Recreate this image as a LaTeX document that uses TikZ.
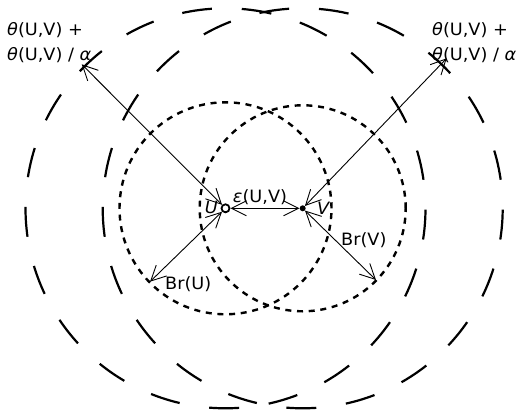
\documentclass[tikz,border=0pt]{standalone}
\usepackage{fontspec}
\setmainfont{DejaVu Sans}[FakeStretch=1.04]
\usetikzlibrary{arrows.meta}
\begin{document}
\begin{tikzpicture}[x=1pt,y=1pt,
  big/.style={line width=2.2pt, dash pattern=on 29.92pt off 29.92pt, dash phase=31.2pt},
  dots/.style={line width=2.4pt, dash pattern=on 6pt off 5.7pt},
  barb/.tip={Straight Barb[length=15pt,width=15pt]},
  link/.style={line width=0.9pt, barb-barb},
  lab/.style={font=\fontsize{17}{20}\selectfont, inner sep=0pt}]
\useasboundingbox (0,0) rectangle (519,418);
\coordinate (cu) at (225.5,209.7);
\coordinate (cv) at (302.7,209.7);
\draw[big] (cu) circle[radius=200pt];
\draw[big] (cv) circle[radius=200pt];
\draw[dots] (cu) circle[radius=106pt];
\draw[dots] (cv) circle[radius=103pt];
\node[circle, draw, line width=1.8pt, minimum size=8pt, inner sep=0pt] (U) at (cu) {};
\node[circle, fill, minimum size=6pt, inner sep=0pt] (V) at (cv) {};
\coordinate (A) at (81.7,353.7);
\coordinate (B) at (446.7,359.7);
\coordinate (C) at (150,136.3);
\coordinate (D) at (376,138);
\draw[link] (U) -- (A);
\draw[link] (V) -- (B);
\draw[link] (U) -- (C);
\draw[link] (V) -- (D);
\draw[link] (U) -- (V);
\node[lab, anchor=base west] (tl1) at (7,382) {\textit{θ}(U,V) +};
\node[lab, anchor=base west] (tl2) at (7,357.5) {\textit{θ}(U,V) / \textit{α}};
\node[lab, anchor=base west] (tr1) at (432,382) {\textit{θ}(U,V) +};
\node[lab, anchor=base west] (tr2) at (432,357.5) {\textit{θ}(U,V) / \textit{α}};
\node[lab, anchor=base] (e) at (260,215) {\textit{ε}(U,V)};
\node[lab, anchor=base east] (lu) at (218,204) {\textit{U}};
\node[lab, anchor=base west] (lv) at (317,203) {\textit{V}};
\node[lab, anchor=base west] (bu) at (165,128.7) {Br(U)};
\node[lab, anchor=base west] (bv) at (341,172) {Br(V)};
\end{tikzpicture}
\end{document}
